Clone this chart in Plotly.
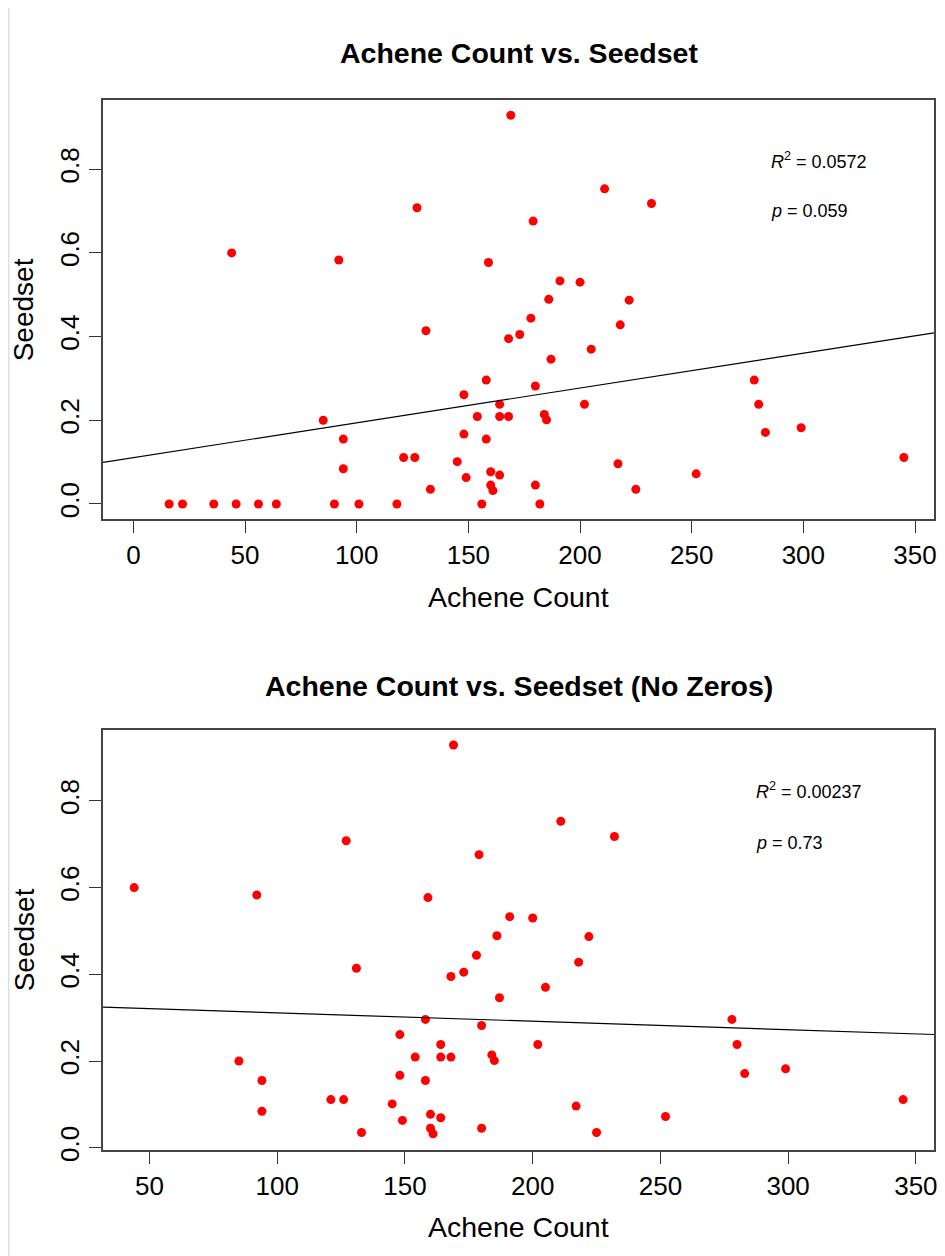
import numpy as np
import plotly.graph_objects as go

# ---------------- data ----------------
achene_zero = [16, 22, 36, 46, 56, 64, 90, 101, 118, 156, 182]
seedset_zero = [0.0] * len(achene_zero)

achene_nz = [44, 92, 127, 169, 159, 131, 168, 173, 158, 148,
             164, 154, 164, 168, 85, 94, 148, 158, 121, 126,
             145, 94, 149, 160, 164, 133, 160, 161, 211, 232,
             179, 191, 200, 186, 222, 178, 218, 205, 187, 180,
             278, 280, 202, 184, 185, 283, 299, 345, 180, 217,
             252, 225]
seedset_nz = [0.600, 0.583, 0.708, 0.929, 0.577, 0.414, 0.395, 0.405, 0.296, 0.261,
              0.238, 0.209, 0.209, 0.209, 0.200, 0.155, 0.167, 0.155, 0.111, 0.111,
              0.101, 0.084, 0.063, 0.077, 0.069, 0.035, 0.045, 0.032, 0.753, 0.718,
              0.676, 0.533, 0.530, 0.489, 0.487, 0.444, 0.428, 0.370, 0.346, 0.282,
              0.296, 0.238, 0.238, 0.214, 0.201, 0.171, 0.182, 0.111, 0.045, 0.096,
              0.072, 0.035]

x_ticks_top = [0, 50, 100, 150, 200, 250, 300, 350]
x_ticks_bottom = [50, 100, 150, 200, 250, 300, 350]
y_ticks = [0.0, 0.2, 0.4, 0.6, 0.8]

titles = ["Achene Count vs. Seedset", "Achene Count vs. Seedset (No Zeros)"]
r2_labels = ["0.0572", "0.00237"]
p_labels = ["0.059", "0.73"]

# ---------------- figure ----------------
FONT = "Liberation Sans, Arial, Helvetica, sans-serif"
x_all = achene_zero + achene_nz
y_all = seedset_zero + seedset_nz

xr_top = [-13.6, 358.5]
yr_top = [-0.0366, 0.9654]
xr_bot = [31.8, 357.1]
yr_bot = [-0.0053, 0.9636]

fig = go.Figure()

def add_panel(xs, ys, xref, yref, xr):
    fig.add_trace(go.Scatter(x=xs, y=ys, mode="markers", xaxis=xref, yaxis=yref,
                             marker=dict(color="#ff0000", size=9, line=dict(width=0)),
                             showlegend=False, hoverinfo="x+y"))
    slope, icept = np.polyfit(np.array(xs, float), np.array(ys, float), 1)
    lx = np.array(xr)
    fig.add_trace(go.Scatter(x=lx, y=icept + slope * lx, mode="lines", xaxis=xref, yaxis=yref,
                             line=dict(color="black", width=1.2), showlegend=False,
                             hoverinfo="skip"))

add_panel(x_all, y_all, "x", "y", xr_top)
add_panel(achene_nz, seedset_nz, "x2", "y2", xr_bot)

axis_common = dict(showgrid=False, zeroline=False, showline=True, mirror=True,
                   linecolor="#444444", linewidth=1.5, ticks="outside", ticklen=12,
                   tickwidth=1.3, tickcolor="#333333",
                   tickfont=dict(family=FONT, size=26, color="black"))

# the page is shown with an 8px body margin, so the figure is 8px smaller
fig.update_layout(
    width=937, height=1248,
    margin=dict(l=95, r=8, t=92, b=106),
    paper_bgcolor="white", plot_bgcolor="white",
    xaxis=dict(domain=[0, 1], anchor="y", range=xr_top, tickvals=x_ticks_top, **axis_common),
    yaxis=dict(domain=[0.6007, 1], anchor="x", range=yr_top, tickvals=y_ticks,
               tickformat=".1f", tickangle=-90, **axis_common),
    xaxis2=dict(domain=[0, 1], anchor="y2", range=xr_bot, tickvals=x_ticks_bottom, **axis_common),
    yaxis2=dict(domain=[0, 0.4], anchor="x2", range=yr_bot, tickvals=y_ticks,
                tickformat=".1f", tickangle=-90, **axis_common),
)

ann = []
title_font = dict(family=FONT, size=28.5, color="black")
ann.append(dict(text="<b>%s</b>" % titles[0], x=0.5, y=1.0448, xref="paper", yref="paper",
                xanchor="center", yanchor="middle", showarrow=False, font=title_font))
ann.append(dict(text="<b>%s</b>" % titles[1], x=0.5, y=0.4419, xref="paper", yref="paper",
                xanchor="center", yanchor="middle", showarrow=False, font=title_font))
lab_font = dict(family=FONT, size=28.5, color="black")
for yy in [0.5269, -0.0733]:
    ann.append(dict(text="Achene Count", x=0.5, y=yy, xref="paper", yref="paper",
                    xanchor="center", yanchor="middle", showarrow=False, font=lab_font))
ylab_font = dict(family=FONT, size=28, color="black")
for yy in [0.8, 0.2]:
    ann.append(dict(text="Seedset", x=-0.0947, y=yy, xref="paper", yref="paper",
                    xanchor="center", yanchor="middle", textangle=-90, showarrow=False,
                    font=ylab_font))
stat_font = dict(family=FONT, size=18, color="black")
ann.append(dict(text="<i>R</i><sup>2</sup> = %s" % r2_labels[0], x=284.5, y=0.822, xref="x", yref="y",
                xanchor="left", yanchor="middle", showarrow=False, font=stat_font))
ann.append(dict(text="<i>p</i> = %s" % p_labels[0], x=284.5, y=0.700, xref="x", yref="y",
                xanchor="left", yanchor="middle", showarrow=False, font=stat_font))
ann.append(dict(text="<i>R</i><sup>2</sup> = %s" % r2_labels[1], x=286.5, y=0.823, xref="x2", yref="y2",
                xanchor="left", yanchor="middle", showarrow=False, font=stat_font))
ann.append(dict(text="<i>p</i> = %s" % p_labels[1], x=286.5, y=0.703, xref="x2", yref="y2",
                xanchor="left", yanchor="middle", showarrow=False, font=stat_font))
fig.update_layout(annotations=ann)

# faint page-border line at the left edge
fig.add_shape(type="line", xref="paper", yref="paper", x0=-0.1133, x1=-0.1133, y0=-0.101, y1=1.095,
              line=dict(color="#d0d0d0", width=1))

fig.write_html("out.html")
